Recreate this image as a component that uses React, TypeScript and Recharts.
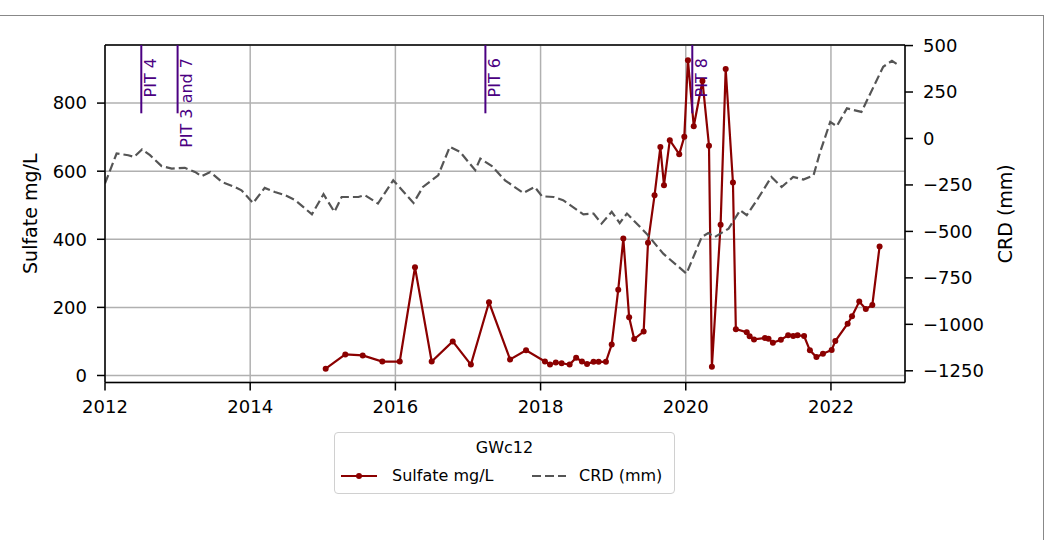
import React from 'react'
import {
  ComposedChart,
  Line,
  XAxis,
  YAxis,
  CartesianGrid,
  ReferenceLine,
  Legend,
} from 'recharts'

// sulfate samples (decimal year, mg/L)
const sulfateYears = [
  2015.04, 2015.31, 2015.55, 2015.82, 2016.06, 2016.27, 2016.5, 2016.79, 2017.04, 2017.29,
  2017.58, 2017.8, 2018.06, 2018.13, 2018.21, 2018.29, 2018.4, 2018.49, 2018.57, 2018.64,
  2018.73, 2018.8, 2018.9, 2018.98, 2019.07, 2019.14, 2019.22, 2019.29, 2019.42, 2019.48,
  2019.57, 2019.65, 2019.7, 2019.78, 2019.91, 2019.98, 2020.03, 2020.11, 2020.23, 2020.32,
  2020.36, 2020.48, 2020.55, 2020.65, 2020.69, 2020.84, 2020.88, 2020.94, 2021.09, 2021.14,
  2021.2, 2021.31, 2021.41, 2021.48, 2021.54, 2021.63, 2021.71, 2021.8, 2021.89, 2022.01,
  2022.06, 2022.23, 2022.29, 2022.39, 2022.48, 2022.57, 2022.67,
]
const sulfateValues = [
  20, 62, 59, 41, 41, 318, 41, 100, 32, 215,
  47, 74, 41, 32, 38, 36, 32, 52, 41, 34,
  40, 40, 40, 91, 252, 402, 171, 107, 129, 390,
  529, 671, 559, 691, 650, 701, 926, 732, 865, 675,
  26, 443, 900, 567, 136, 127, 115, 106, 110, 108,
  96, 105, 118, 116, 118, 116, 74, 54, 64, 75,
  101, 152, 174, 217, 195, 207, 379,
]

// cumulative rainfall departure (decimal year, mm)
const crdYears = [
  2012.0, 2012.16, 2012.32, 2012.4, 2012.51, 2012.62, 2012.78, 2012.92, 2013.1, 2013.24,
  2013.33, 2013.45, 2013.61, 2013.79, 2013.88, 2014.04, 2014.2, 2014.34, 2014.48, 2014.62,
  2014.85, 2015.01, 2015.16, 2015.26, 2015.49, 2015.58, 2015.76, 2015.97, 2016.25, 2016.38,
  2016.59, 2016.75, 2016.89, 2017.1, 2017.17, 2017.33, 2017.51, 2017.76, 2017.92, 2018.02,
  2018.18, 2018.31, 2018.59, 2018.73, 2018.84, 2018.98, 2019.09, 2019.19, 2019.46, 2019.69,
  2020.01, 2020.22, 2020.31, 2020.4, 2020.59, 2020.75, 2020.84, 2020.98, 2021.18, 2021.32,
  2021.48, 2021.62, 2021.76, 2021.85, 2021.99, 2022.08, 2022.22, 2022.42, 2022.72, 2022.84,
  2022.93,
]
const crdValues = [
  -242, -81, -90, -99, -59, -90, -149, -162, -158, -180,
  -203, -180, -234, -261, -279, -347, -266, -288, -305, -332,
  -408, -300, -395, -315, -315, -305, -350, -225, -347, -261,
  -198, -45, -72, -171, -108, -149, -225, -293, -261, -311,
  -315, -332, -408, -404, -458, -395, -455, -404, -512, -620,
  -727, -530, -509, -530, -485, -386, -413, -332, -207, -261,
  -207, -221, -198, -74, 89, 66, 162, 143, 386, 418,
  395,
]

const pitYears = [2012.5, 2013.0, 2017.24, 2020.09]
const pitLabels = ['PIT 4', 'PIT 3 and 7', 'PIT 6', 'PIT 8']

const xTicks = [2012, 2014, 2016, 2018, 2020, 2022]
const leftTicks = [0, 200, 400, 600, 800]
const rightTicks = [-1250, -1000, -750, -500, -250, 0, 250, 500]

const seriesNames = ['Sulfate mg/L', 'CRD (mm)']
const legendTitle = 'GWc12'

const sulfateData = sulfateYears.map((t, i) => ({ t, sulfate: sulfateValues[i] }))
const crdData = crdYears.map((t, i) => ({ t, crd: crdValues[i] }))

const LEFT_TOP = 970.6
const PIT_BOTTOM = 770

const minusFmt = (v: number) => (v < 0 ? '\u2212' + Math.abs(v) : String(v))

const axisStyle = { stroke: '#000', strokeWidth: 1.5 }
const tickStyle = { fill: '#000', fontSize: 18 }

const LegendBox = () => (
  <div
    style={{
      position: 'relative',
      width: 341,
      height: 62,
      boxSizing: 'border-box',
      border: '1.5px solid #d0d0d0',
      borderRadius: 4,
      background: '#fff',
      fontSize: 16,
      color: '#000',
    }}
  >
    <div style={{ position: 'absolute', top: 5, left: 0, width: '100%', textAlign: 'center' }}>
      {legendTitle}
    </div>
    <svg style={{ position: 'absolute', left: 6, top: 37 }} width={38} height={12}>
      <line x1={0} y1={6} x2={36} y2={6} stroke="#8b0000" strokeWidth={2.2} />
      <circle cx={18} cy={6} r={3} fill="#8b0000" />
    </svg>
    <div style={{ position: 'absolute', left: 57, top: 33 }}>{seriesNames[0]}</div>
    <svg style={{ position: 'absolute', left: 197, top: 37 }} width={38} height={12}>
      <line x1={0} y1={6} x2={34} y2={6} stroke="#555" strokeWidth={2.2} strokeDasharray="9 4" />
    </svg>
    <div style={{ position: 'absolute', left: 244, top: 33 }}>{seriesNames[1]}</div>
  </div>
)

const App = () => {
  return (
    <div style={{ position: 'absolute', left: 0, top: 0, width: 1049, height: 540, fontFamily: 'DejaVu Sans', background: '#fff' }}>
      {/* outer frame of the original screenshot */}
      <div
        style={{
          position: 'absolute',
          left: 0,
          top: 15,
          width: 1043,
          height: 530,
          borderTop: '1.5px solid #888',
          borderRight: '1.5px solid #888',
        }}
      />
      <ComposedChart width={1049} height={540} margin={{ top: 45, right: 0, bottom: 117.5, left: 0 }}>
        <CartesianGrid yAxisId="left" stroke="#b0b0b0" strokeWidth={1.5} />
        <XAxis
          dataKey="t"
          type="number"
          domain={[2012, 2023.02]}
          ticks={xTicks}
          allowDataOverflow
          height={40}
          axisLine={axisStyle}
          tickLine={axisStyle}
          tick={tickStyle}
          tickSize={8}
          tickMargin={10}
        />
        <YAxis
          yAxisId="left"
          type="number"
          domain={[-20.6, LEFT_TOP]}
          ticks={leftTicks}
          allowDataOverflow
          width={105}
          axisLine={axisStyle}
          tickLine={axisStyle}
          tick={tickStyle}
          tickSize={8}
          tickMargin={10}
          label={(p: any) => {
            const vb = p.viewBox || { x: 0, y: 45, width: 105, height: 337.5 }
            const cy = vb.y + vb.height / 2
            return (
              <text transform={`translate(${vb.x + 37},${cy}) rotate(-90)`} textAnchor="middle" fontSize={19} fill="#000">
                {seriesNames[0]}
              </text>
            )
          }}
        />
        <YAxis
          yAxisId="right"
          orientation="right"
          type="number"
          domain={[-1313, 503]}
          ticks={rightTicks}
          allowDataOverflow
          width={144}
          axisLine={axisStyle}
          tickLine={axisStyle}
          tick={tickStyle}
          tickSize={8}
          tickMargin={10}
          tickFormatter={minusFmt}
          label={(p: any) => {
            const vb = p.viewBox || { x: 905, y: 45, width: 144, height: 337.5 }
            const cy = vb.y + vb.height / 2
            return (
              <text transform={`translate(${vb.x + 107},${cy}) rotate(-90)`} textAnchor="middle" fontSize={19} fill="#000">
                {seriesNames[1]}
              </text>
            )
          }}
        />
        <Line
          yAxisId="left"
          data={sulfateData}
          dataKey="sulfate"
          name={seriesNames[0]}
          stroke="#8b0000"
          strokeWidth={2.2}
          dot={{ r: 3, fill: '#8b0000', stroke: '#8b0000', strokeWidth: 0 }}
          activeDot={false}
          isAnimationActive={false}
        />
        <Line
          yAxisId="right"
          data={crdData}
          dataKey="crd"
          name={seriesNames[1]}
          stroke="#555555"
          strokeWidth={2.2}
          strokeDasharray="9 4"
          dot={false}
          activeDot={false}
          isAnimationActive={false}
        />
        <ReferenceLine yAxisId="left" y={LEFT_TOP} stroke="#000" strokeWidth={1.5} />
        {pitYears.map((yr, i) => (
          <ReferenceLine
            key={pitLabels[i]}
            yAxisId="left"
            segment={[
              { x: yr, y: PIT_BOTTOM },
              { x: yr, y: LEFT_TOP },
            ]}
            stroke="indigo"
            strokeWidth={2}
            label={(p: any) => {
              const vb = p.viewBox || { x: 0, y: 45 }
              return (
                <text
                  transform={`translate(${vb.x + 14.5},${vb.y + 13}) rotate(-90)`}
                  textAnchor="end"
                  fontSize={16}
                  fill="indigo"
                >
                  {pitLabels[i]}
                </text>
              )
            }}
          />
        ))}
        <Legend
          layout="vertical"
          align="center"
          verticalAlign="middle"
          wrapperStyle={{ left: 334, top: 432, width: 341, height: 62 }}
          content={LegendBox}
        />
      </ComposedChart>
    </div>
  )
}

export default App
